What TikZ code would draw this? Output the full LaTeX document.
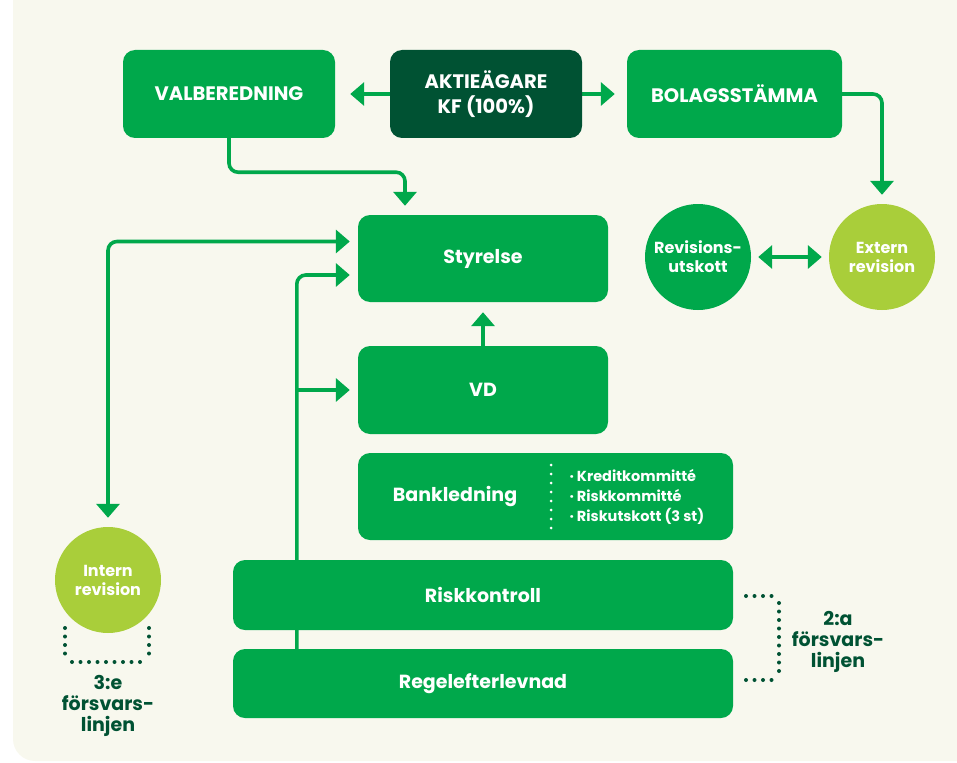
\documentclass[tikz,border=0pt]{standalone}
\usepackage{fontspec}
\setmainfont{Poppins}
\usetikzlibrary{arrows.meta,calc}
\definecolor{G}{RGB}{0,168,75}
\definecolor{DG}{RGB}{0,82,51}
\definecolor{L}{RGB}{169,206,58}
\definecolor{cream}{RGB}{248,248,238}
\pgfdeclarelayer{back}
\pgfdeclarelayer{lines}
\pgfsetlayers{back,lines,main}
\begin{document}
\begin{tikzpicture}[x=1pt,y=-1pt,
  box/.style={rectangle, rounded corners=12pt, fill=G, text=white, font=\bfseries\fontsize{19}{24}\selectfont, inner sep=0pt, align=center},
  capbox/.style={box, font=\bfseries\fontsize{19.5}{25}\selectfont},
  circ/.style={circle, minimum size=106pt, inner sep=0pt, text=white, align=center, font=\bfseries\fontsize{16}{19}\selectfont},
  conn/.style={G, line width=3.6pt, rounded corners=9pt},
  arr/.style={conn, -{Triangle[width=23pt,length=14pt]}},
  darr/.style={conn, {Triangle[width=23pt,length=14pt]}-{Triangle[width=23pt,length=14pt]}},
  dots/.style={DG, line width=4pt, line cap=round, dash pattern=on 0pt off 8.5pt},
  lbl/.style={text=DG, font=\bfseries\fontsize{19}{21}\selectfont, align=center}]
\useasboundingbox (0,0) rectangle (957,762);
\begin{pgfonlayer}{back}
\fill[cream, rounded corners=22pt] (13,-40) rectangle (1000,761);
\end{pgfonlayer}

% top row
\node[capbox, minimum width=212pt, minimum height=88pt] (val) at (229,94) {VALBEREDNING};
\node[capbox, fill=DG, minimum width=192pt, minimum height=88pt] (akt) at (486,94) {AKTIEÄGARE\\KF (100\%)};
\node[capbox, minimum width=215pt, minimum height=88pt] (bol) at (734.5,94) {BOLAGSSTÄMMA};

% main column
\node[box, minimum width=250pt, minimum height=87pt] (sty) at (483,258.5) {Styrelse};
\node[box, minimum width=250pt, minimum height=88pt] (vd) at (483,390) {VD};
\node[box, minimum width=375pt, minimum height=87pt] (bank) at (545.5,496.5) {};
\node[text=white, font=\bfseries\fontsize{19}{24}\selectfont] (banktxt) at (455,496) {Bankledning};
\node[text=white, font=\bfseries\fontsize{14.5}{20}\selectfont, align=left, anchor=west] (banklist) at (566,497) {· Kreditkommitté\\· Riskkommitté\\· Riskutskott (3 st)};
\node[box, minimum width=500pt, minimum height=70pt] (ris) at (483,595) {Riskkontroll};
\node[box, minimum width=500pt, minimum height=69pt] (reg) at (483,683.5) {Regelefterlevnad};

% circles
\node[circ, fill=G] (rev) at (698,257) {Revisions-\\utskott};
\node[circ, fill=L] (ext) at (882,257) {Extern\\revision};
\node[circ, fill=L] (int) at (108,580) {Intern\\revision};

% labels
\node[lbl] (l3) at (108,706) {3:e\\försvars-\\linjen};
\node[lbl] (l2) at (838,642) {2:a\\försvars-\\linjen};

\coordinate (rx) at ([xshift=64pt]reg.north west);

\begin{pgfonlayer}{lines}
\draw[arr, shorten >=15pt] (akt.west) -- (val.east);
\draw[arr, shorten >=12pt] (akt.east) -- (bol.west);
\draw[arr] (val.south) -- ++(0,34) -| ([xshift=-78pt,yshift=9pt]sty.north);
\draw[arr] (bol.east) -| ([yshift=9pt]ext.north);
\draw[darr] ([xshift=7pt]rev.east) -- ([xshift=-7pt]ext.west);
\draw[arr] (vd.north) -- ([yshift=-10pt]sty.south);
\draw[darr] ([yshift=9pt]int.north) |- ([xshift=-8pt,yshift=17pt]sty.west);
\draw[arr] (rx) |- ([xshift=-8pt,yshift=-16.5pt]sty.west);
\draw[arr] (rx |- vd.west) -- ([xshift=-8pt]vd.west);
\end{pgfonlayer}

% dotted separator in Bankledning
\draw[white, line width=3pt, line cap=round, dash pattern=on 0pt off 9pt] (551,465) -- (551,528);

% brackets
\draw[dots] (65,628) -- (65,654);
\draw[dots] (149,628) -- (149,654);
\draw[dots] (72,662) -- (143,662);
\draw[dots] (746,596) -- (772,596);
\draw[dots] (779,603) -- (779,675);
\draw[dots] (746,680) -- (772,680);
\end{tikzpicture}
\end{document}
